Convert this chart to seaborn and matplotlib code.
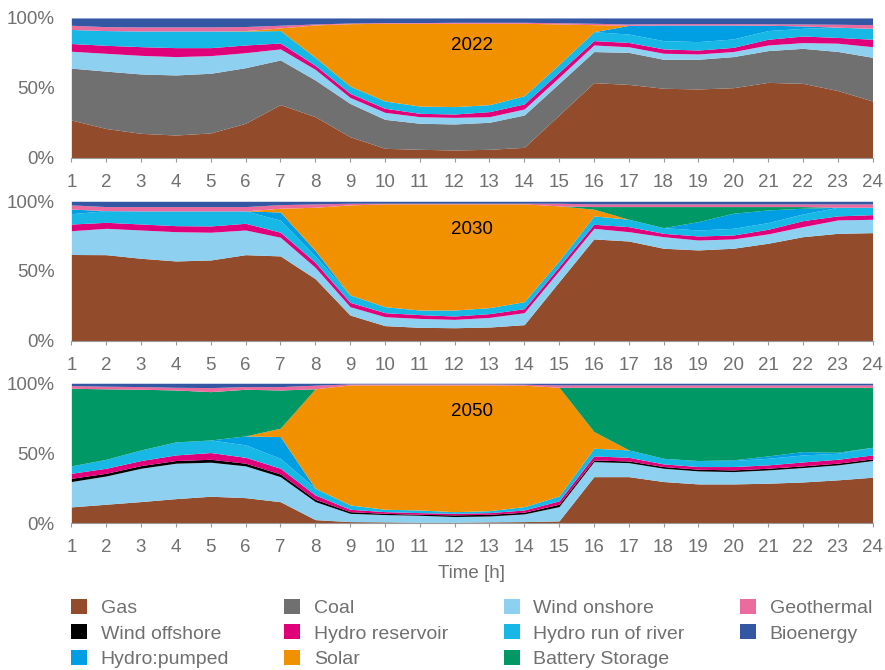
import numpy as np
import pandas as pd
import matplotlib.pyplot as plt
import seaborn as sns
from matplotlib.patches import Patch

# Hours of the day
hours = [1, 2, 3, 4, 5, 6, 7, 8, 9, 10, 11, 12, 13, 14, 15, 16, 17, 18, 19, 20, 21, 22, 23, 24]

sources = ['Gas', 'Coal', 'Wind onshore', 'Wind offshore', 'Hydro reservoir',
           'Hydro run of river', 'Hydro:pumped', 'Solar', 'Battery Storage',
           'Geothermal', 'Bioenergy']
colors = ['#924b2b', '#707070', '#8ed0f0', '#000000', '#e0007a',
          '#17b8e6', '#009fe3', '#f29100', '#009966', '#ec6b9f', '#3357a3']

# --- 2022 (share of generation, %) ---
gas_2022 = [27.0, 21.0, 17.6, 16.4, 17.9, 24.8, 38.1, 29.5, 15.2, 6.9, 6.2, 5.7, 6.2, 7.6, 30.7, 53.8, 52.6, 49.8, 49.3, 50.2, 54.0, 53.3, 48.1, 40.7]
coal_2022 = [37.0, 40.9, 42.4, 42.9, 42.6, 39.7, 31.9, 26.2, 23.8, 20.7, 18.6, 18.6, 19.3, 23.1, 22.6, 22.2, 22.9, 20.7, 21.2, 22.2, 22.7, 25.0, 27.9, 31.2]
won_2022 = [12.0, 12.7, 13.3, 13.1, 12.6, 10.7, 7.9, 7.6, 4.3, 5.0, 4.7, 4.7, 4.0, 4.3, 4.3, 4.7, 4.0, 4.3, 3.8, 3.6, 4.0, 4.1, 5.9, 7.6]
woff_2022 = [0, 0, 0, 0, 0, 0, 0, 0, 0, 0, 0, 0, 0, 0, 0, 0, 0, 0, 0, 0, 0, 0, 0, 0]
res_2022 = [5.5, 5.7, 6.2, 6.4, 5.7, 5.5, 4.2, 2.9, 2.9, 2.9, 2.4, 2.4, 3.6, 3.6, 3.6, 3.1, 3.1, 3.1, 2.8, 3.0, 4.1, 4.7, 4.1, 5.3]
ror_2022 = [10.0, 10.5, 11.2, 11.9, 11.9, 10.0, 8.9, 5.7, 5.2, 5.2, 5.2, 5.3, 5.0, 5.9, 5.7, 6.4, 6.0, 5.9, 6.0, 6.0, 6.2, 5.5, 7.3, 7.8]
pump_2022 = [0, 0, 0, 0, 0, 0, 0, 0, 0, 0, 0, 0, 0, 0, 0, 0, 6.2, 11.2, 11.9, 10.0, 3.8, 1.7, 0, 0]
solar_2022 = [0, 0, 0, 0, 0, 0.3, 1.9, 23.1, 44.6, 55.5, 59.1, 59.5, 58.1, 51.7, 28.8, 5.0, 0, 0, 0, 0, 0, 0, 0, 0]
batt_2022 = [0, 0, 0, 0, 0, 0, 0, 0, 0, 0, 0, 0, 0, 0, 0, 0, 0, 0, 0, 0, 0, 0, 0, 0]
geo_2022 = [3.0, 2.8, 2.9, 2.9, 2.9, 2.9, 1.9, 0.7, 0.5, 0.5, 0.5, 0.7, 0.7, 0.7, 0.9, 1.0, 1.0, 1.0, 1.0, 1.0, 1.0, 1.4, 2.1, 2.6]
bio_2022 = [5.2, 6.2, 6.4, 6.4, 6.4, 6.1, 5.2, 4.3, 3.6, 3.3, 3.3, 3.1, 3.1, 3.1, 3.4, 3.8, 4.3, 4.0, 4.0, 4.0, 4.2, 4.3, 4.5, 4.8]

# --- 2030 ---
gas_2030 = [61.7, 61.7, 59.1, 57.2, 57.9, 61.7, 60.8, 44.5, 18.4, 10.8, 9.6, 9.3, 9.8, 11.5, 42.3, 73.0, 71.5, 66.3, 65.1, 66.3, 69.9, 74.6, 77.0, 77.5]
coal_2030 = [0, 0, 0, 0, 0, 0, 0, 0, 0, 0, 0, 0, 0, 0, 0, 0, 0, 0, 0, 0, 0, 0, 0, 0]
won_2030 = [17.0, 18.9, 20.3, 21.0, 19.9, 17.7, 13.4, 8.1, 6.0, 6.4, 6.4, 6.0, 6.9, 8.6, 7.9, 7.6, 6.7, 8.3, 7.1, 6.7, 6.7, 7.2, 9.6, 9.6]
woff_2030 = [0, 0, 0, 0, 0, 0, 0, 0, 0, 0, 0, 0, 0, 0, 0, 0, 0, 0, 0, 0, 0, 0, 0, 0]
res_2030 = [4.8, 4.3, 4.3, 4.3, 4.5, 4.8, 3.6, 3.6, 3.1, 2.9, 2.7, 2.4, 2.7, 2.9, 2.9, 2.9, 3.6, 2.4, 2.9, 2.8, 3.3, 4.3, 2.9, 3.3]
ror_2030 = [7.4, 8.4, 9.4, 10.6, 10.8, 8.9, 8.6, 4.6, 5.3, 4.3, 3.3, 4.3, 4.3, 5.0, 4.3, 6.0, 5.3, 4.1, 4.3, 4.8, 4.8, 4.8, 6.2, 5.3]
pump_2030 = [3.3, 0, 0, 0, 0, 0, 5.9, 3.8, 0, 0, 0, 0, 0, 0, 0, 0, 0, 0, 6.0, 10.8, 9.1, 4.1, 0, 0]
solar_2030 = [0, 0, 0, 0, 0, 0, 2.7, 31.1, 64.6, 73.7, 76.1, 76.1, 74.4, 70.1, 39.3, 4.8, 0, 0, 0, 0, 0, 0, 0, 0]
batt_2030 = [0, 0, 0, 0, 0, 0, 0, 0, 0, 0, 0, 0, 0, 0, 0, 1.9, 9.1, 15.1, 10.8, 4.8, 2.4, 1.2, 0, 0]
geo_2030 = [3.0, 2.9, 3.1, 3.1, 3.1, 3.1, 2.6, 2.4, 1.2, 0.5, 0.5, 0.5, 0.5, 0.5, 1.9, 1.9, 1.9, 1.9, 1.9, 1.9, 1.9, 1.9, 2.4, 2.4]
bio_2030 = [2.6, 3.8, 3.8, 3.8, 3.8, 3.8, 2.4, 1.9, 1.4, 1.4, 1.4, 1.4, 1.4, 1.4, 1.4, 1.9, 1.9, 1.9, 1.9, 1.9, 1.9, 1.9, 1.9, 1.9]

# --- 2050 ---
gas_2050 = [11.7, 13.6, 15.5, 17.6, 19.3, 18.3, 15.4, 2.6, 1.2, 1.0, 0.7, 0.7, 1.0, 1.2, 1.7, 33.3, 33.3, 29.8, 28.1, 28.1, 28.6, 29.5, 31.0, 32.9]
coal_2050 = [0, 0, 0, 0, 0, 0, 0, 0, 0, 0, 0, 0, 0, 0, 0, 0, 0, 0, 0, 0, 0, 0, 0, 0]
won_2050 = [18.1, 20.2, 23.8, 25.3, 24.3, 22.7, 17.9, 12.9, 5.9, 5.2, 5.0, 4.1, 4.2, 5.5, 10.2, 10.7, 10.0, 9.5, 9.3, 8.8, 9.5, 10.3, 10.7, 11.9]
woff_2050 = [2.3, 1.9, 1.9, 1.9, 2.1, 1.9, 1.9, 1.6, 1.2, 0.9, 0.7, 1.2, 1.2, 1.2, 1.7, 1.2, 1.2, 1.2, 1.2, 1.2, 1.2, 1.2, 1.2, 1.2]
res_2050 = [3.6, 3.6, 3.6, 4.0, 4.8, 4.2, 4.1, 3.1, 1.7, 1.2, 1.2, 1.1, 1.2, 1.6, 2.4, 2.9, 2.6, 1.9, 1.9, 2.4, 2.4, 2.8, 2.8, 2.8]
ror_2050 = [5.3, 6.4, 7.6, 9.3, 9.0, 8.9, 7.1, 4.8, 3.1, 1.7, 1.9, 1.2, 1.4, 2.4, 3.5, 5.5, 5.3, 4.0, 4.3, 4.3, 4.7, 5.0, 4.3, 5.5]
pump_2050 = [0, 0, 0, 0, 0, 6.4, 15.5, 0, 0, 0, 0, 0, 0, 0, 0, 0, 0, 0, 0, 0.5, 1.7, 2.4, 0.7, 0]
solar_2050 = [0, 0, 0, 0, 0, 0, 6.0, 71.0, 85.7, 88.8, 89.3, 90.5, 89.8, 86.7, 77.6, 11.9, 0, 0, 0, 0, 0, 0, 0, 0]
batt_2050 = [55.4, 50.3, 43.3, 37.1, 34.5, 33.3, 27.3, 0, 0, 0, 0, 0, 0, 0, 0, 31.6, 44.7, 50.7, 52.3, 51.8, 49.0, 45.9, 46.4, 42.8]
geo_2050 = [1.9, 1.9, 1.9, 1.9, 2.9, 1.9, 2.4, 2.6, 0.7, 0.7, 0.7, 0.7, 0.7, 0.7, 1.7, 1.7, 1.7, 1.7, 1.7, 1.7, 1.7, 1.7, 1.7, 1.7]
bio_2050 = [1.7, 2.1, 2.4, 2.9, 3.1, 2.4, 2.4, 1.4, 0.5, 0.5, 0.5, 0.5, 0.5, 0.7, 1.2, 1.2, 1.2, 1.2, 1.2, 1.2, 1.2, 1.2, 1.2, 1.2]

years = {
    '2022': [gas_2022, coal_2022, won_2022, woff_2022, res_2022, ror_2022,
             pump_2022, solar_2022, batt_2022, geo_2022, bio_2022],
    '2030': [gas_2030, coal_2030, won_2030, woff_2030, res_2030, ror_2030,
             pump_2030, solar_2030, batt_2030, geo_2030, bio_2030],
    '2050': [gas_2050, coal_2050, won_2050, woff_2050, res_2050, ror_2050,
             pump_2050, solar_2050, batt_2050, geo_2050, bio_2050],
}

sns.set_theme(style='white')
plt.rcParams['font.family'] = ['Liberation Sans', 'DejaVu Sans']
grey = '#707070'
fs = 13.5

fig = plt.figure(figsize=(8.85, 6.7), dpi=100)
rects = [[0.0806, 0.7642, 0.9053, 0.2090],
         [0.0806, 0.4915, 0.9053, 0.2081],
         [0.0806, 0.2190, 0.9053, 0.2090]]

for rect, (year, series) in zip(rects, years.items()):
    ax = fig.add_axes(rect)
    df = pd.DataFrame(dict(zip(sources, series)), index=hours)
    # shares of total generation per hour
    df = df.div(df.sum(axis=1), axis=0) * 100
    ax.stackplot(df.index, [df[s] for s in sources], colors=colors, linewidth=0)
    ax.set_xlim(1, 24)
    ax.set_ylim(0, 100)
    ax.set_xticks(hours)
    ax.set_yticks([0, 50, 100])
    ax.set_yticklabels(['0%', '50%', '100%'])
    ax.tick_params(axis='y', length=0, pad=12, labelsize=fs, labelcolor=grey)
    ax.tick_params(axis='x', length=3, width=0.8, color='#999999', pad=8.5,
                   labelsize=fs, labelcolor=grey, bottom=True)
    sns.despine(ax=ax, left=True)
    ax.spines['bottom'].set_color('#999999')
    ax.spines['bottom'].set_linewidth(0.8)
    ax.text(12.5, 80, year, ha='center', va='center', fontsize=fs, color='black')

fig.text(0.533, 1 - 574 / 670, 'Time [h]', ha='center', va='center',
         fontsize=fs, color=grey)

# legend laid out row-wise as in the original
order = [0, 3, 6, 1, 4, 7, 2, 5, 8, 9, 10]
handles = [Patch(facecolor=colors[i], edgecolor='none') for i in order]
labels = [sources[i] for i in order]
fig.legend(handles, labels, loc='upper left', bbox_to_anchor=(0.0802, 1 - 599 / 670),
           ncol=4, frameon=False, fontsize=14, labelcolor=grey,
           handlelength=0.82, handleheight=0.82, handletextpad=0.7,
           columnspacing=2.85, labelspacing=0.36, borderpad=0, borderaxespad=0)

fig.savefig('out.png', dpi=100)
